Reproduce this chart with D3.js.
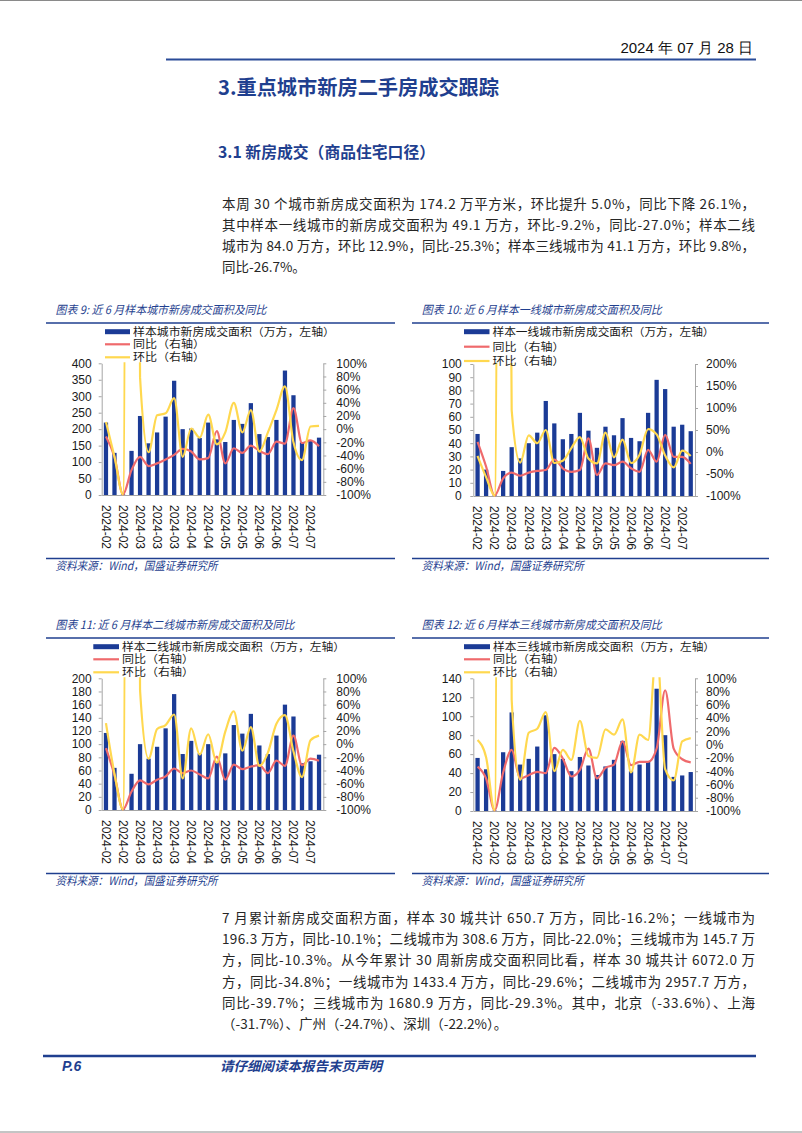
<!DOCTYPE html>
<html><head><meta charset="utf-8">
<script src="https://cdn.jsdelivr.net/npm/d3@7"></script>
<style>body{margin:0;background:#fff}svg{display:block}</style>
</head><body><svg id="page" width="802" height="1133"></svg>
<script>
// ---------- data ----------
const weekEnds = ["2024-02-04","2024-02-11","2024-02-18","2024-02-25","2024-03-03","2024-03-10","2024-03-17","2024-03-24","2024-03-31","2024-04-07","2024-04-14","2024-04-21","2024-04-28","2024-05-05","2024-05-12","2024-05-19","2024-05-26","2024-06-02","2024-06-09","2024-06-16","2024-06-23","2024-06-30","2024-07-07","2024-07-14","2024-07-21","2024-07-28"];

const areaAll   = [220,128,2,134,240,157,190,238,347,200,202,173,220,169,161,228,216,279,185,176,228,378,303,160,166,174.2];
const yoyAll    = [-11,-42,-99,-62,-42,-56,-52,-46,-39,-30,-34,-46,-44,-3,-52,-29,-36,-25,-33,-38,-19,-22,32,-21,-17,-26.1];
const wowAll    = [11,-42,-99,3000,79,-35,21,24,47,-42,1,-13,22,-23,-5,40,-5,29,-34,-5,29,65,-20,-47,4,5.0];

const areaTier1 = [47,20,0.5,19,37,28.5,40,48,72,55,43,47,63,49.5,36.5,52.5,46,59,44,41.5,63,88,81,52.5,54,49.1];
const yoyTier1  = [23,-33,-99,-60,-47,-54,-47,-43,-41,-17,-37,-45,-41,31,-52,-26,-30,-22,-37,-45,5,-22,39,-11,-11,-27.0];
const wowTier1  = [-9,-57,-99,3000,95,-24,38,20,50,-25,-20,9,34,-15,-26,44,-12,28,-25,-6,52,40,-8,-35,3,-9.2];

const areaTier2 = [117,64,1,55,100,78,96,124,176,85,105,86,100,72,86,129,116,146,98,85,113,160,142,71,74,84.0];
const yoyTier2  = [-6,-47,-99,-72,-55,-61,-54,-49,-37,-44,-40,-46,-52,-19,-54,-31,-38,-34,-32,-44,-25,-33,13,-32,-22,-25.3];
const wowTier2  = [32,-45,-99,3000,82,-22,23,29,45,-52,24,-16,15,-28,19,50,-10,26,-33,-13,31,44,-11,-50,6,12.9];

const areaTier3 = [56,44,0.5,62,104,49,55,68,101,60,55,42,57,48,38,47,54,74,42,49,52,129,80,36,37.5,41.1];
const yoyTier3  = [-33,-51,-99,-42,-8,-51,-46,-41,-43,-5,-21,-48,-38,-6,-51,-35,-30,5,-31,-26,-26,-6,82,-6,-22,-26.7];
const wowTier3  = [7,-19,-99,3000,68,-53,18,24,49,-40,-8,-23,36,-17,-20,23,15,38,-42,15,7,148,-37,-54,5,9.8];

const leftTicks9  = [0,50,100,150,200,250,300,350,400];
const leftTicks10 = [0,10,20,30,40,50,60,70,80,90,100];
const leftTicks11 = [0,20,40,60,80,100,120,140,160,180,200];
const leftTicks12 = [0,20,40,60,80,100,120,140];
const pctTicks100 = [-100,-80,-60,-40,-20,0,20,40,60,80,100];
const pctTicks200 = [-100,-50,0,50,100,150,200];

const para1 = [
  "本周 30 个城市新房成交面积为 174.2 万平方米，环比提升 5.0%，同比下降 26.1%，",
  "其中样本一线城市的新房成交面积为 49.1 万方，环比-9.2%，同比-27.0%；样本二线",
  "城市为 84.0 万方，环比 12.9%，同比-25.3%；样本三线城市为 41.1 万方，环比 9.8%，",
  "同比-26.7%。"
];
const para2 = [
  "7 月累计新房成交面积方面，样本 30 城共计 650.7 万方，同比-16.2%；一线城市为",
  "196.3 万方，同比-10.1%；二线城市为 308.6 万方，同比-22.0%；三线城市为 145.7 万",
  "方，同比-10.3%。从今年累计 30 周新房成交面积同比看，样本 30 城共计 6072.0 万",
  "方，同比-34.8%；一线城市为 1433.4 万方，同比-29.6%；二线城市为 2957.7 万方，",
  "同比-39.7%；三线城市为 1680.9 万方，同比-29.3%。其中，北京（-33.6%）、上海",
  "（-31.7%）、广州（-24.7%）、深圳（-22.2%）。"
];

// ---------- page ----------
const BLUE = "#1f3f8f", BAR = "#1b3b96", RED = "#ef6a6c", YEL = "#ffd84f", AX = "#a6a6a6";
const CJK = "'Noto Sans CJK SC','Noto Sans',sans-serif";
const LAT = "'Liberation Sans',Arial,sans-serif";
const LEG = "'Liberation Sans','Noto Sans CJK SC',sans-serif";
const svg = d3.select("#page");
svg.append("rect").attr("width",802).attr("height",1133).attr("fill","#fff");
svg.append("line").attr("x1",0).attr("x2",802).attr("y1",0.5).attr("y2",0.5).attr("stroke","#8a8a8a");
svg.append("line").attr("x1",0).attr("x2",802).attr("y1",1132).attr("y2",1132).attr("stroke","#8a8a8a");

svg.append("text").attr("x",753).attr("y",53).attr("text-anchor","end")
  .attr("font-family","'Liberation Sans Narrow','Liberation Sans',sans-serif").attr("font-size",15)
  .attr("fill","#111").text("2024 年 07 月 28 日");
svg.append("line").attr("x1",166).attr("x2",756).attr("y1",59.5).attr("y2",59.5).attr("stroke","#2a4b98").attr("stroke-width",1.8);

svg.append("text").attr("x",218).attr("y",95).attr("font-family",CJK).attr("font-weight",700)
  .attr("font-size",20).attr("fill",BLUE).attr("textLength",281).attr("lengthAdjust","spacingAndGlyphs")
  .text("3.重点城市新房二手房成交跟踪");
svg.append("text").attr("x",218).attr("y",158).attr("font-family",CJK).attr("font-weight",700)
  .attr("font-size",16).attr("fill",BLUE).attr("textLength",217).attr("lengthAdjust","spacingAndGlyphs")
  .text("3.1 新房成交（商品住宅口径）");

function paragraph(lines, y0, step) {
  lines.forEach((t, i) => {
    const el = svg.append("text").attr("x",222).attr("y",y0 + i*step).attr("font-family",CJK)
      .attr("font-size",13.5).attr("fill","#262626").text(t);
    if (i < lines.length - 1) el.attr("textLength",533).attr("lengthAdjust","spacing");
  });
}
paragraph(para1, 209, 20.9);
paragraph(para2, 923, 21.2);

svg.append("line").attr("x1",43).attr("x2",756).attr("y1",1056).attr("y2",1056).attr("stroke",BLUE).attr("stroke-width",2.5);
svg.append("text").attr("x",62).attr("y",1071).attr("font-family",LAT).attr("font-weight",700).attr("font-style","italic")
  .attr("font-size",14).attr("fill",BLUE).text("P.6");
svg.append("text").attr("x",220).attr("y",1071).attr("font-family",CJK).attr("font-weight",700).attr("font-style","italic")
  .attr("font-size",13.2).attr("fill",BLUE).attr("textLength",162).attr("lengthAdjust","spacingAndGlyphs").text("请仔细阅读本报告末页声明");

// ---------- charts ----------
let clipId = 0;
function drawChart(c) {
  const g = svg.append("g");
  g.append("text").attr("x",c.tx).attr("y",c.ty+4).attr("font-family",CJK).attr("font-style","italic")
    .attr("font-size",11.5).attr("fill",BLUE).attr("textLength",c.tw).attr("lengthAdjust","spacingAndGlyphs").text(c.title);
  g.append("line").attr("x1",c.rx0).attr("x2",c.rx1).attr("y1",c.ty+13).attr("y2",c.ty+13).attr("stroke",BLUE).attr("stroke-width",1.5);
  g.append("line").attr("x1",c.rx0).attr("x2",c.rx1).attr("y1",c.sy-7.5).attr("y2",c.sy-7.5).attr("stroke",BLUE).attr("stroke-width",1.5);
  g.append("text").attr("x",c.tx).attr("y",c.sy+4).attr("font-family",CJK).attr("font-style","italic")
    .attr("font-size",11.5).attr("fill",BLUE).attr("textLength",162).attr("lengthAdjust","spacingAndGlyphs").text("资料来源：Wind，国盛证券研究所");

  const idx = d3.range(weekEnds.length);
  const x = d3.scaleBand().domain(idx).range([c.x0,c.x1]).paddingInner(0.5).paddingOuter(0.25);
  const yL = d3.scaleLinear().domain([c.leftTicks[0], c.leftTicks[c.leftTicks.length-1]]).range([c.y1,c.y0]);
  const yR = d3.scaleLinear().domain([c.rightTicks[0], c.rightTicks[c.rightTicks.length-1]]).range([c.y1,c.y0]);

  g.selectAll(".bar").data(c.area).enter().append("rect")
    .attr("x",(d,i)=>x(i)).attr("width",x.bandwidth())
    .attr("y",d=>yL(d)).attr("height",d=>yL(0)-yL(d)).attr("fill",BAR);

  const axL = g.append("g").attr("transform",`translate(${c.x0},0)`)
    .call(d3.axisLeft(yL).tickValues(c.leftTicks).tickSizeInner(3).tickSizeOuter(0).tickPadding(c.lpad));
  const axR = g.append("g").attr("transform",`translate(${c.x1},0)`)
    .call(d3.axisRight(yR).tickValues(c.rightTicks).tickFormat(d=>d+"%").tickSizeInner(3).tickSizeOuter(0).tickPadding(c.rpad));
  const axB = g.append("g").attr("transform",`translate(0,${c.y1})`)
    .call(d3.axisBottom(x).tickValues(idx.filter(i=>i%2===0)).tickFormat(i=>weekEnds[i].slice(0,7)).tickSize(0).tickSizeOuter(0));
  [axL,axR,axB].forEach(a=>{
    a.select(".domain").attr("stroke",AX);
    a.selectAll(".tick line").attr("stroke",AX);
    a.selectAll("text").attr("font-family",LAT).attr("font-size",12).attr("fill","#1a1a1a");
  });
  axB.selectAll("text").attr("transform","rotate(90)").attr("text-anchor","start")
    .attr("x",10).attr("y",0).attr("dy","0.35em");

  const cid = "clip" + (clipId++);
  g.append("clipPath").attr("id",cid).append("rect")
    .attr("x",c.x0).attr("y",c.y0-1).attr("width",c.x1-c.x0).attr("height",c.y1-c.y0+2);
  const line = d3.line().x((d,i)=>x(i)+x.bandwidth()/2).y(d=>yR(d)).curve(d3.curveMonotoneX);
  const lg = g.append("g").attr("clip-path",`url(#${cid})`);
  lg.append("path").attr("d",line(c.yoy)).attr("fill","none").attr("stroke",RED).attr("stroke-width",2.2);
  lg.append("path").attr("d",line(c.wow)).attr("fill","none").attr("stroke",YEL).attr("stroke-width",2.2);

  const labels = [c.legend, "同比（右轴）", "环比（右轴）"];
  labels.forEach((t,i)=>{
    const ly = c.ly[i];
    if (i===0) g.append("rect").attr("x",c.lx0).attr("y",ly-2.5).attr("width",c.lx1-c.lx0).attr("height",5).attr("fill",BAR);
    else g.append("line").attr("x1",c.lx0).attr("x2",c.lx1).attr("y1",ly).attr("y2",ly)
      .attr("stroke", i===1?RED:YEL).attr("stroke-width",2.2);
    const el = g.append("text").attr("x",c.lx1+3).attr("y",ly).attr("dy","0.36em").attr("font-family",LEG)
      .attr("font-size",10.8).attr("fill","#1a1a1a").text(t);
    el.attr("textLength", i===0 ? c.lw : 72).attr("lengthAdjust","spacingAndGlyphs");
  });
}

drawChart({title:"图表 9:  近 6 月样本城市新房成交面积及同比", tx:55.5, ty:310, tw:211, rx0:46, rx1:395, sy:566,
  x0:101.7, x1:323.3, y0:363.3, y1:495, lpad:7, rpad:10,
  leftTicks:leftTicks9, rightTicks:pctTicks100, area:areaAll, yoy:yoyAll, wow:wowAll,
  legend:"样本城市新房成交面积（万方，左轴）", lx0:105, lx1:130, lw:202, ly:[331.7,344.3,357.3]});
drawChart({title:"图表 10:  近 6 月样本一线城市新房成交面积及同比", tx:421.7, ty:310, tw:240, rx0:412, rx1:769, sy:566,
  x0:473.3, x1:695, y0:364, y1:496, lpad:8.5, rpad:8,
  leftTicks:leftTicks10, rightTicks:pctTicks200, area:areaTier1, yoy:yoyTier1, wow:wowTier1,
  legend:"样本一线城市新房成交面积（万方，左轴）", lx0:464, lx1:489.5, lw:222, ly:[331.7,346.7,361]});
drawChart({title:"图表 11:  近 6 月样本二线城市新房成交面积及同比", tx:55.5, ty:625, tw:239, rx0:46, rx1:395, sy:881,
  x0:101.7, x1:323.3, y0:678.3, y1:810, lpad:7, rpad:10,
  leftTicks:leftTicks11, rightTicks:pctTicks100, area:areaTier2, yoy:yoyTier2, wow:wowTier2,
  legend:"样本二线城市新房成交面积（万方，左轴）", lx0:93.3, lx1:119, lw:223, ly:[646.7,659.3,672.3]});
drawChart({title:"图表 12:  近 6 月样本三线城市新房成交面积及同比", tx:421.7, ty:625, tw:240, rx0:412, rx1:769, sy:881,
  x0:473.3, x1:695, y0:678.3, y1:811, lpad:8.5, rpad:8,
  leftTicks:leftTicks12, rightTicks:pctTicks100, area:areaTier3, yoy:yoyTier3, wow:wowTier3,
  legend:"样本三线城市新房成交面积（万方，左轴）", lx0:464, lx1:490, lw:222, ly:[646.7,659.3,672.3]});
</script></body></html>
